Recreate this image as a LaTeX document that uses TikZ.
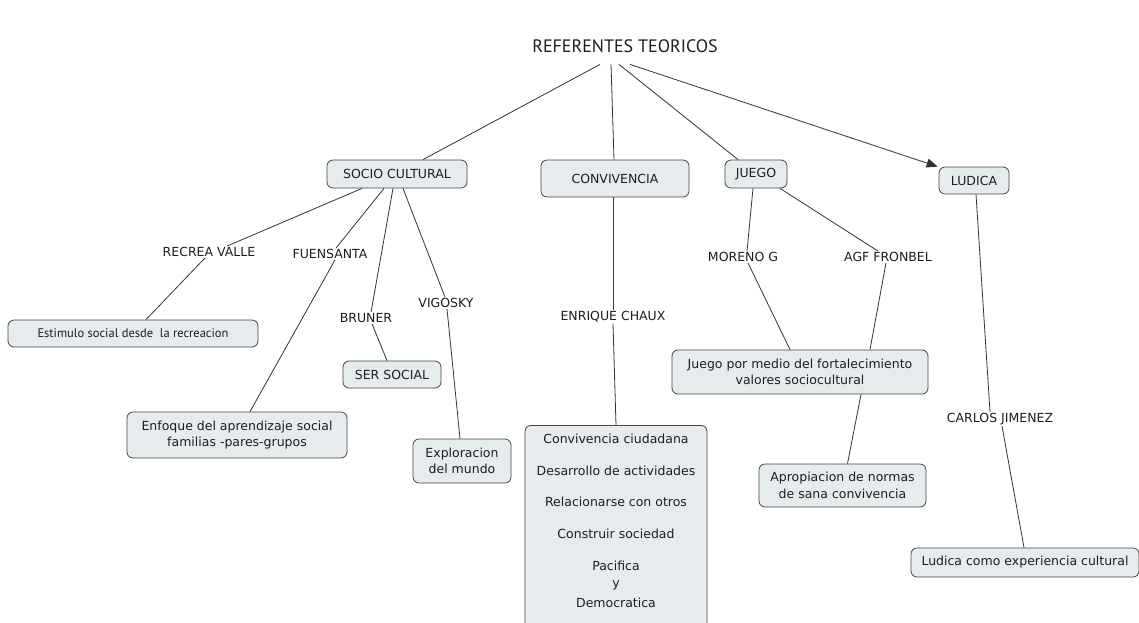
\documentclass[tikz,border=0pt]{standalone}
\usepackage{fontspec}
\setmainfont{DejaVu Sans}
\newfontfamily\ptfont{PT Sans}
\usetikzlibrary{arrows.meta}
\definecolor{boxfill}{RGB}{230,236,238}
\definecolor{boxdraw}{RGB}{70,70,70}
\definecolor{txt}{RGB}{30,30,30}
\begin{document}
\begin{tikzpicture}[x=1pt,y=-1pt,
  every node/.style={text=txt, font=\fontsize{12.5}{16.5}\selectfont},
  cbox/.style={draw=boxdraw, fill=boxfill, rounded corners=6pt, line width=0.8pt, inner sep=0pt, align=center},
  lbl/.style={inner sep=1pt},
  conn/.style={draw=black!80, line width=0.8pt}]
\useasboundingbox[fill=white] (0,0) rectangle (1139,622);

% title
\node[font=\ptfont\fontsize{18}{20}\selectfont, anchor=base, inner xsep=2pt, inner ysep=12pt] (title) at (625,52) {REFERENTES TEORICOS};

% level 1
\node[cbox, minimum width=140pt, minimum height=28pt] (soc) at (397,174) {SOCIO CULTURAL};
\node[cbox, minimum width=148pt, minimum height=37pt] (conv) at (615,178.5) {CONVIVENCIA};
\node[cbox, minimum width=62pt, minimum height=28pt] (jue) at (756,174) {JUEGO};
\node[cbox, minimum width=70pt, minimum height=27pt] (lud) at (974,180.5) {LUDICA};

% labels
\node[lbl] (recrea) at (209,252) {RECREA VALLE};
\node[lbl] (fuen) at (330,254) {FUENSANTA};
\node[lbl] (bru) at (366,318) {BRUNER};
\node[lbl] (vig) at (446,303) {VIGOSKY};
\node[lbl] (enr) at (613,317) {ENRIQUE CHAUX};
\node[lbl] (mor) at (743,257) {MORENO G};
\node[lbl] (agf) at (888,257) {AGF FRONBEL};
\node[lbl] (car) at (1000,419) {CARLOS JIMENEZ};

% leaf boxes
\node[cbox, minimum width=250pt, minimum height=27pt, font=\ptfont\fontsize{12.5}{14}\selectfont] (est) at (133,333.5) {Estimulo social desde\ \ la recreacion};
\node[cbox, minimum width=220pt, minimum height=46pt] (enf) at (237,435) {Enfoque del aprendizaje social\\familias -pares-grupos};
\node[cbox, minimum width=98pt, minimum height=27pt] (ser) at (392,374.5) {SER SOCIAL};
\node[cbox, minimum width=98pt, minimum height=44pt] (exp) at (462,461) {Exploracion\\del mundo};
\node[cbox, anchor=north, minimum width=182pt, inner sep=0pt] (list) at (616,425)
  {\parbox[t][205pt][t]{182pt}{\centering\fontsize{12.5}{15}\selectfont\vspace{9pt}
   Convivencia ciudadana\\[17pt]
   Desarrollo de actividades\\[16pt]
   Relacionarse con otros\\[17pt]
   Construir sociedad\\[17pt]
   Pacifica\\[2pt]
   y\\[5pt]
   Democratica}};
\node[cbox, minimum width=256pt, minimum height=44pt] (jbox) at (800,372) {Juego por medio del fortalecimiento\\valores sociocultural};
\node[cbox, minimum width=167pt, minimum height=43pt] (apr) at (842.5,485.5) {Apropiacion de normas\\de sana convivencia};
\node[cbox, minimum width=228pt, minimum height=29pt] (ldbox) at (1025,562.5) {Ludica como experiencia cultural};

% connectors from title
\draw[conn] ([xshift=-25pt]title.south) -- ([xshift=26pt]soc.north);
\draw[conn] ([xshift=-14pt]title.south) -- ([xshift=-1pt]conv.north);
\draw[conn] ([xshift=-6pt]title.south) -- ([xshift=-18pt]jue.north);
\draw[conn, -{Triangle[length=11pt,width=9pt]}] ([xshift=5pt]title.south) -- ([xshift=-1pt]lud.north west);

% socio cultural
\draw[conn] ([xshift=-35pt]soc.south) -- ([xshift=18pt]recrea.north);
\draw[conn] ([xshift=-4pt]recrea.south) -- ([xshift=13pt]est.north);
\draw[conn] ([xshift=-13pt]soc.south) -- ([xshift=6pt]fuen.north);
\draw[conn] ([xshift=5pt]fuen.south) -- ([xshift=13pt]enf.north);
\draw[conn] ([xshift=-4pt]soc.south) -- ([xshift=5pt]bru.north);
\draw[conn] ([xshift=6pt]bru.south) -- ([xshift=-5pt]ser.north);
\draw[conn] ([xshift=6pt]soc.south) -- ([xshift=-1pt]vig.north);
\draw[conn] ([xshift=1pt]vig.south) -- ([xshift=-2pt]exp.north);

% convivencia
\draw[conn] ([xshift=-2pt]conv.south) -- (enr.north);
\draw[conn] (enr.south) -- (list.north);

% juego
\draw[conn] ([xshift=-3pt]jue.south) -- ([xshift=4pt]mor.north);
\draw[conn] ([xshift=5pt]mor.south) -- ([xshift=-10pt]jbox.north);
\draw[conn] ([xshift=24pt]jue.south) -- ([xshift=-10pt]agf.north);
\draw[conn] ([xshift=-2pt]agf.south) -- ([xshift=70pt]jbox.north);
\draw[conn] ([xshift=61pt]jbox.south) -- ([xshift=5pt]apr.north);

% ludica
\draw[conn] ([xshift=2pt]lud.south) -- ([xshift=-10pt]car.north);
\draw[conn] ([xshift=2pt]car.south) -- ([xshift=-1pt]ldbox.north);
\end{tikzpicture}
\end{document}
